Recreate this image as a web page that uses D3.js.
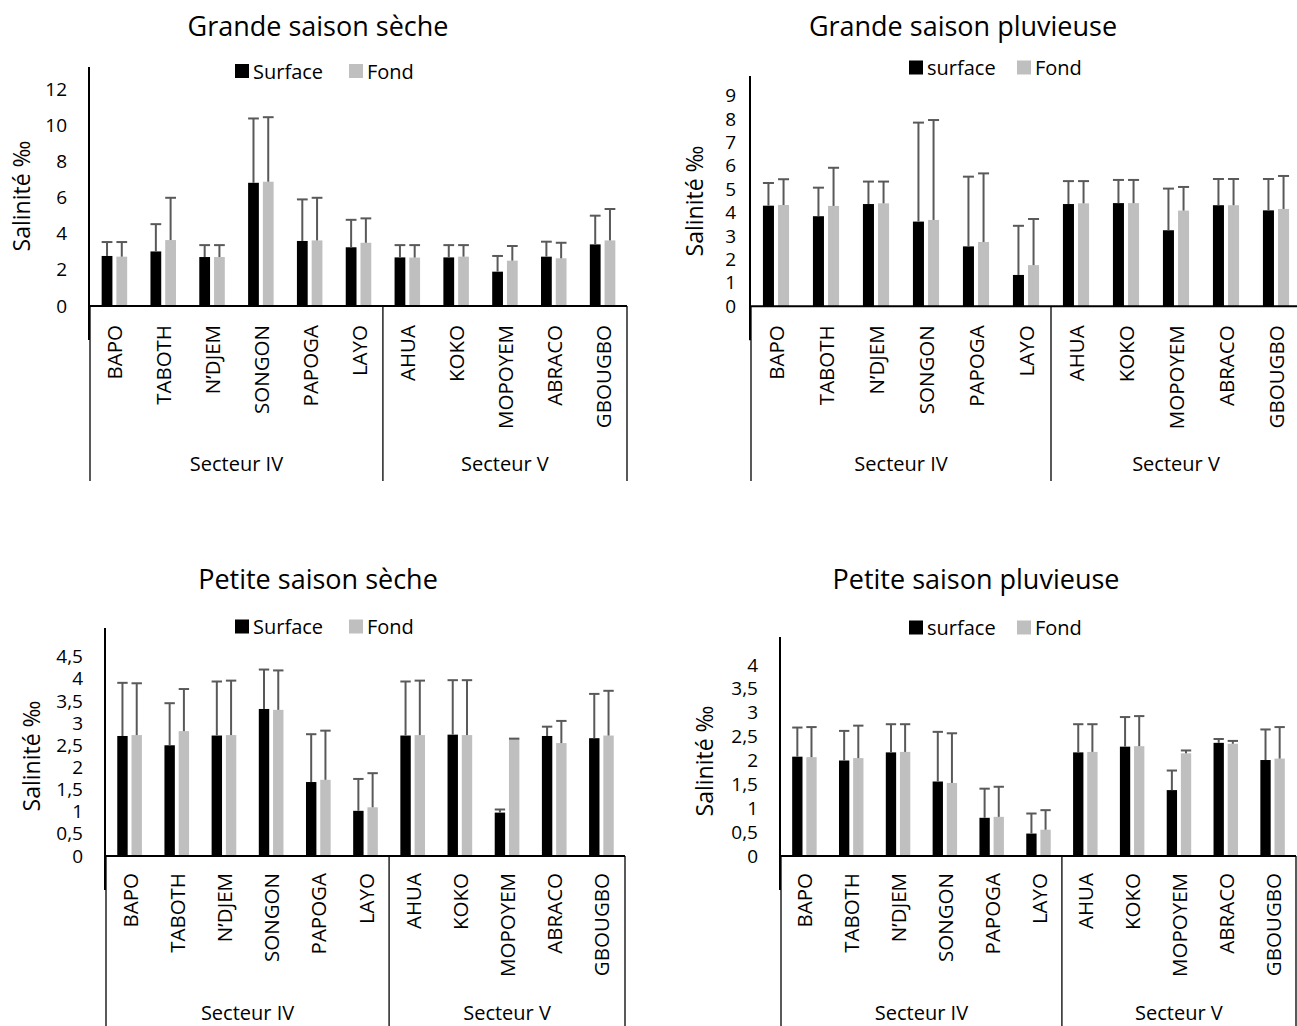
<!DOCTYPE html>
<html>
<head>
<meta charset="utf-8">
<script src="https://cdn.jsdelivr.net/npm/d3@7"></script>
<style>
  body { margin: 0; background: #fff; }
  svg { display: block; }
  text { font-family: "Open Sans", "Noto Sans", sans-serif; fill: #000; }
</style>
</head>
<body>
<script>
// Sampling stations, grouped by lagoon sector
const stations = ["BAPO", "TABOTH", "N\u2019DJEM", "SONGON", "PAPOGA", "LAYO",
                  "AHUA", "KOKO", "MOPOYEM", "ABRACO", "GBOUGBO"];
const sectorNames = ["Secteur IV", "Secteur V"];
const sectorSizes = [6, 5];
const panelTitles = ["Grande saison sèche", "Grande saison pluvieuse",
                     "Petite saison sèche", "Petite saison pluvieuse"];
const legendDry = ["Surface", "Fond"];
const legendWet = ["surface", "Fond"];
const yAxisTitle = "Salinité ‰";

// Grande saison sèche: mean salinity and standard deviation
const gssSurface   = [2.77, 3.02, 2.71, 6.82, 3.60, 3.25, 2.69, 2.69, 1.90, 2.73, 3.41];
const gssSurfaceSd = [0.77, 1.51, 0.66, 3.56, 2.30, 1.52, 0.68, 0.68, 0.87, 0.83, 1.59];
const gssFond      = [2.73, 3.65, 2.71, 6.88, 3.63, 3.50, 2.68, 2.73, 2.51, 2.64, 3.63];
const gssFondSd    = [0.81, 2.34, 0.66, 3.57, 2.36, 1.35, 0.69, 0.64, 0.81, 0.86, 1.74];
const gssTicks     = [0, 2, 4, 6, 8, 10, 12];

// Grande saison pluvieuse
const gspSurface   = [4.30, 3.85, 4.37, 3.62, 2.56, 1.34, 4.37, 4.41, 3.25, 4.32, 4.10];
const gspSurfaceSd = [0.97, 1.22, 0.96, 4.23, 2.98, 2.10, 0.98, 0.99, 1.78, 1.12, 1.34];
const gspFond      = [4.33, 4.29, 4.40, 3.69, 2.75, 1.76, 4.40, 4.41, 4.09, 4.32, 4.16];
const gspFondSd    = [1.10, 1.63, 0.93, 4.27, 2.93, 1.97, 0.95, 0.99, 1.01, 1.12, 1.41];
const gspTicks     = [0, 1, 2, 3, 4, 5, 6, 7, 8, 9];

// Petite saison sèche
const pssSurface   = [2.71, 2.50, 2.72, 3.32, 1.67, 1.02, 2.72, 2.74, 0.98, 2.71, 2.66];
const pssSurfaceSd = [1.20, 0.95, 1.22, 0.89, 1.08, 0.72, 1.22, 1.23, 0.07, 0.21, 1.00];
const pssFond      = [2.73, 2.82, 2.73, 3.30, 1.72, 1.10, 2.73, 2.73, 2.64, 2.55, 2.72];
const pssFondSd    = [1.17, 0.95, 1.23, 0.89, 1.11, 0.77, 1.23, 1.24, 0.01, 0.50, 1.01];
const pssTicks     = [0, 0.5, 1, 1.5, 2, 2.5, 3, 3.5, 4, 4.5];

// Petite saison pluvieuse
const pspSurface   = [2.08, 2.00, 2.17, 1.56, 0.80, 0.47, 2.17, 2.29, 1.38, 2.37, 2.01];
const pspSurfaceSd = [0.61, 0.62, 0.59, 1.04, 0.61, 0.42, 0.59, 0.62, 0.41, 0.08, 0.64];
const pspFond      = [2.07, 2.05, 2.18, 1.53, 0.82, 0.55, 2.18, 2.30, 2.15, 2.35, 2.04];
const pspFondSd    = [0.63, 0.68, 0.58, 1.04, 0.63, 0.41, 0.58, 0.63, 0.06, 0.06, 0.66];
const pspTicks     = [0, 0.5, 1, 1.5, 2, 2.5, 3, 3.5, 4];

const seriesKeys = ["surface", "fond"];
const seriesColor = { surface: "#000000", fond: "#bfbfbf" };
const errColor = "#595959";
const fmt = d3.formatLocale({ decimal: ",", thousands: " ", grouping: [3], currency: ["", "€"] }).format("~g");

const W = 1297, H = 1026;
const svg = d3.select("body").append("svg").attr("width", W).attr("height", H);

function drawPanel(cfg) {
  const g = svg.append("g");
  const x = d3.scaleBand().domain(stations).range([cfg.x0, cfg.x1]).paddingInner(0).paddingOuter(0);
  const xs = d3.scaleBand().domain(seriesKeys).range([0, x.step()]).paddingInner(0.27).paddingOuter(0.79);
  const yMax = cfg.ticks[cfg.ticks.length - 1];
  const y = d3.scaleLinear().domain([0, yMax]).range([cfg.zero, cfg.yMaxPx]);

  const rows = stations.map((s, i) => ({
    station: s,
    values: [
      { key: "surface", v: cfg.surface[i], sd: cfg.surfaceSd[i] },
      { key: "fond", v: cfg.fond[i], sd: cfg.fondSd[i] }
    ]
  }));

  // Title
  g.append("text").attr("x", cfg.titleX).attr("y", cfg.titleY)
    .attr("text-anchor", "middle").attr("dominant-baseline", "central")
    .style("font-size", "27px").text(cfg.title);

  // Legend
  const lg = g.append("g");
  cfg.legendNames.forEach((name, i) => {
    const lx = cfg.legendX[i];
    lg.append("rect").attr("x", lx).attr("y", cfg.legendY - 7).attr("width", 14).attr("height", 14)
      .attr("fill", seriesColor[seriesKeys[i]]);
    lg.append("text").attr("x", lx + 18).attr("y", cfg.legendY)
      .attr("dominant-baseline", "central").style("font-size", "20px").text(name);
  });

  // Y axis ticks
  const yAxis = d3.axisLeft(y).tickValues(cfg.ticks).tickFormat(fmt).tickSize(0).tickPadding(cfg.tickPad);
  const ya = g.append("g").attr("transform", `translate(${cfg.x0},0)`).call(yAxis);
  ya.select(".domain").remove();
  ya.selectAll("text").style("font-size", "19px").style("font-family", '"Open Sans", sans-serif').attr("fill", "#000");

  // Y axis title
  g.append("text").attr("transform", `translate(${cfg.yTitleX},${cfg.yTitleY}) rotate(-90)`)
    .attr("text-anchor", "middle").attr("dominant-baseline", "central")
    .style("font-size", "23px").text(yAxisTitle);

  // Bars
  const groups = g.selectAll(".cat").data(rows).join("g")
    .attr("transform", d => `translate(${x(d.station)},0)`);
  groups.selectAll("rect.bar").data(d => d.values).join("rect")
    .attr("class", "bar")
    .attr("x", d => xs(d.key)).attr("width", xs.bandwidth())
    .attr("y", d => y(d.v)).attr("height", d => y(0) - y(d.v))
    .attr("fill", d => seriesColor[d.key]);

  // Upper error bars
  groups.selectAll("line.err").data(d => d.values).join("line")
    .attr("class", "err")
    .attr("x1", d => xs(d.key) + xs.bandwidth() / 2).attr("x2", d => xs(d.key) + xs.bandwidth() / 2)
    .attr("y1", d => y(d.v)).attr("y2", d => y(d.v + d.sd))
    .attr("stroke", errColor).attr("stroke-width", 2);
  groups.selectAll("line.cap").data(d => d.values).join("line")
    .attr("class", "cap")
    .attr("x1", d => xs(d.key)).attr("x2", d => xs(d.key) + xs.bandwidth())
    .attr("y1", d => y(d.v + d.sd)).attr("y2", d => y(d.v + d.sd))
    .attr("stroke", errColor).attr("stroke-width", 2);

  // Vertical axis line, running slightly below zero
  g.append("line").attr("x1", cfg.x0 - 1).attr("x2", cfg.x0 - 1)
    .attr("y1", cfg.axisTop).attr("y2", cfg.zero + 34)
    .attr("stroke", "#000").attr("stroke-width", 2);

  // Horizontal axis line
  g.append("line").attr("x1", cfg.x0).attr("x2", cfg.x1)
    .attr("y1", cfg.zero).attr("y2", cfg.zero)
    .attr("stroke", "#000").attr("stroke-width", 2);

  // Category box: left edge, sector divider, right edge
  let cum = 0;
  const edges = [cfg.x0];
  sectorSizes.forEach(n => { cum += n; edges.push(cfg.x0 + cum * x.step()); });
  edges.forEach(ex => {
    g.append("line").attr("x1", ex).attr("x2", ex)
      .attr("y1", cfg.zero).attr("y2", cfg.boxBottom)
      .attr("stroke", "#000").attr("stroke-width", 1.3);
  });

  // Station labels (rotated)
  g.selectAll("text.cat").data(stations).join("text")
    .attr("class", "cat")
    .attr("transform", d => `translate(${x(d) + x.bandwidth() / 2},${cfg.zero + cfg.catPad}) rotate(-90)`)
    .attr("text-anchor", "end").attr("dominant-baseline", "central")
    .style("font-size", "20.5px").text(d => d);

  // Sector labels
  sectorNames.forEach((name, i) => {
    g.append("text").attr("x", (edges[i] + edges[i + 1]) / 2).attr("y", cfg.sectorY)
      .attr("text-anchor", "middle").attr("dominant-baseline", "central")
      .style("font-size", "20px").text(name);
  });
}

drawPanel({
  title: panelTitles[0], titleX: 318, titleY: 25,
  legendNames: legendDry, legendX: [235, 349], legendY: 71,
  surface: gssSurface, surfaceSd: gssSurfaceSd, fond: gssFond, fondSd: gssFondSd, ticks: gssTicks,
  x0: 90, x1: 627, zero: 306, yMaxPx: 89.2, axisTop: 67, boxBottom: 481,
  tickPad: 23, yTitleX: 21, yTitleY: 196, catPad: 19, sectorY: 463
});
drawPanel({
  title: panelTitles[1], titleX: 963, titleY: 25,
  legendNames: legendWet, legendX: [909, 1017], legendY: 67.5,
  surface: gspSurface, surfaceSd: gspSurfaceSd, fond: gspFond, fondSd: gspFondSd, ticks: gspTicks,
  x0: 751, x1: 1301, zero: 306.3, yMaxPx: 95.7, axisTop: 76, boxBottom: 481,
  tickPad: 15, yTitleX: 694, yTitleY: 201, catPad: 19, sectorY: 463
});
drawPanel({
  title: panelTitles[2], titleX: 318, titleY: 578,
  legendNames: legendDry, legendX: [235, 349], legendY: 626.5,
  surface: pssSurface, surfaceSd: pssSurfaceSd, fond: pssFond, fondSd: pssFondSd, ticks: pssTicks,
  x0: 106, x1: 625, zero: 856, yMaxPx: 656.7, axisTop: 628, boxBottom: 1026,
  tickPad: 23, yTitleX: 31, yTitleY: 756, catPad: 17, sectorY: 1012
});
drawPanel({
  title: panelTitles[3], titleX: 976, titleY: 578,
  legendNames: legendWet, legendX: [909, 1017], legendY: 627.5,
  surface: pspSurface, surfaceSd: pspSurfaceSd, fond: pspFond, fondSd: pspFondSd, ticks: pspTicks,
  x0: 781, x1: 1296, zero: 856, yMaxPx: 665, axisTop: 637, boxBottom: 1026,
  tickPad: 23, yTitleX: 704, yTitleY: 761, catPad: 17, sectorY: 1012
});
</script>
</body>
</html>
